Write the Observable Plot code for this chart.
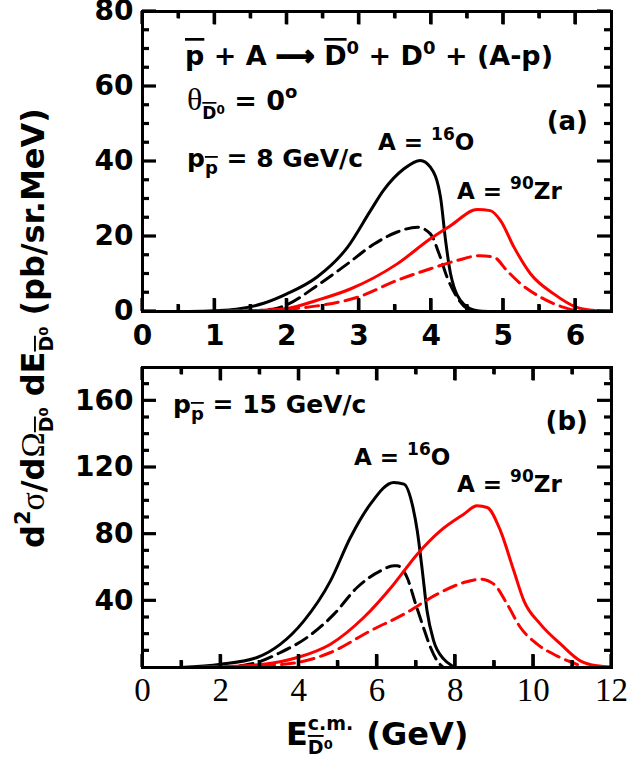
<!DOCTYPE html>
<html>
<head>
<meta charset="utf-8">
<script src="https://cdn.jsdelivr.net/npm/d3@7"></script>
<script src="https://cdn.jsdelivr.net/npm/@observablehq/plot@0.6"></script>
<style>
  html, body { margin: 0; padding: 0; background: #fff; }
  #chart { position: relative; width: 628px; height: 765px; }
  #chart svg { position: absolute; left: 0; }
</style>
</head>
<body>
<div id="chart"></div>
<script>
// ---------- Data ----------
// Panel (a): p̄ momentum 8 GeV/c
const aO16SolidE = [0.65, 1.0, 1.3, 1.68, 2.0, 2.42, 2.84, 3.16, 3.34, 3.62, 3.85, 3.99, 4.13, 4.2, 4.27, 4.45, 4.64, 4.8];
const aO16SolidV = [0, 0.2, 0.6, 2.2, 4.7, 9.2, 17.1, 26.9, 32.3, 38, 40.3, 38.5, 30.5, 19, 10, 2, 0.2, 0];
const aO16DashE = [1.2, 1.8, 2.0, 2.42, 2.84, 3.21, 3.53, 3.81, 3.99, 4.11, 4.22, 4.36, 4.5, 4.6];
const aO16DashV = [0, 0.6, 1.8, 6.9, 12.7, 18, 21.2, 22.5, 20.7, 15.4, 9.2, 3.8, 0.7, 0];
const aZrSolidE = [0.6, 1.2, 1.6, 2.0, 2.42, 2.88, 3.53, 3.99, 4.27, 4.64, 4.82, 4.96, 5.15, 5.38, 5.7, 6.02, 6.3, 6.5];
const aZrSolidV = [0, 0.1, 0.3, 0.8, 3, 6, 12.7, 19.4, 22.9, 27.2, 26.9, 24.3, 17.1, 10, 4.7, 1.1, 0.2, 0];
const aZrDashE = [0.6, 1.6, 2.0, 2.42, 2.98, 3.53, 3.99, 4.36, 4.68, 4.87, 5.05, 5.24, 5.52, 5.84, 6.02, 6.1];
const aZrDashV = [0, 0.2, 0.6, 1.5, 3.8, 8.3, 11.4, 13.6, 14.9, 14.5, 10.9, 7.4, 3.8, 1.1, 0.2, 0];

// Panel (b): p̄ momentum 15 GeV/c
const bO16SolidE = [0.97, 2.0, 2.93, 3.53, 4.13, 4.81, 5.32, 5.83, 6.43, 6.69, 6.9, 7.03, 7.16, 7.28, 7.45, 7.71, 7.92, 8.0];
const bO16SolidV = [0, 2, 6, 14, 28, 52, 78, 98, 111, 110, 98, 82, 58, 34, 16, 5, 1, 0];
const bO16DashE = [2.5, 2.93, 3.53, 4.21, 4.9, 5.49, 6.09, 6.43, 6.52, 6.77, 6.99, 7.16, 7.37, 7.54, 7.7];
const bO16DashV = [1, 3, 9, 18, 32, 48, 58, 61, 61, 54, 38, 26, 12, 4, 0];
const bZrSolidE = [1.0, 2.0, 3.1, 3.96, 4.81, 5.66, 6.43, 7.03, 7.62, 8.22, 8.56, 8.82, 9.16, 9.5, 9.76, 10.18, 10.7, 11.2, 11.63, 12];
const bZrSolidV = [0, 0.5, 2, 6, 14, 30, 50, 68, 82, 92, 97, 96, 82, 58, 40, 26, 14, 4, 1, 0.3];
const bZrDashE = [1.0, 3.0, 3.96, 4.81, 5.83, 6.69, 7.54, 8.22, 8.65, 8.99, 9.33, 9.67, 10.1, 10.6, 11.1, 11.3];
const bZrDashV = [0, 1, 3, 9, 22, 32, 44, 51, 53, 50, 38, 24, 14, 7, 2, 0];

// Tick values / labels
const xTicksA = [0, 1, 2, 3, 4, 5, 6];
const xMinorA = [0.5, 1.5, 2.5, 3.5, 4.5, 5.5];
const yTicksA = [0, 20, 40, 60, 80];
const yMinorA = [5, 10, 15, 25, 30, 35, 45, 50, 55, 65, 70, 75];
const xTicksB = [0, 2, 4, 6, 8, 10, 12];
const xMinorB = [1, 3, 5, 7, 9, 11];
const yTicksB = [40, 80, 120, 160];
const yMinorB = [10, 20, 30, 50, 60, 70, 90, 100, 110, 130, 140, 150, 170];

// ---------- Helpers ----------
const SANS = "DejaVu Sans";
const SERIF = "Liberation Serif";
const tbl = (E, V) => E.map((e, i) => ({E: e, V: V[i]}));

function curveMarks(sets) {
  return sets.map(([E, V, color, dashed]) =>
    Plot.line(tbl(E, V), {
      x: "E", y: "V", stroke: color, strokeWidth: 3,
      strokeDasharray: dashed ? "13,7" : null,
      curve: "monotone-x"
    }));
}

// inward ticks on all four sides, drawn as small filled rects (lengths in px -> data units)
function tickMarks(xDom, yDom, xMaj, xMin, yMaj, yMin, pw, ph) {
  const kx = (xDom[1] - xDom[0]) / pw, ky = (yDom[1] - yDom[0]) / ph;
  const hw = 1.6; // half width of a tick, px
  const rows = [];
  const addX = (vals, len) => vals.forEach(v => {
    rows.push({x1: v - hw * kx, x2: v + hw * kx, y1: yDom[0], y2: yDom[0] + len * ky});
    rows.push({x1: v - hw * kx, x2: v + hw * kx, y1: yDom[1] - len * ky, y2: yDom[1]});
  });
  const addY = (vals, len) => vals.forEach(v => {
    rows.push({x1: xDom[0], x2: xDom[0] + len * kx, y1: v - hw * ky, y2: v + hw * ky});
    rows.push({x1: xDom[1] - len * kx, x2: xDom[1], y1: v - hw * ky, y2: v + hw * ky});
  });
  addX(xMaj, 13); addX(xMin, 7); addY(yMaj, 14); addY(yMin, 7);
  return [
    Plot.rect(rows, {x1: "x1", x2: "x2", y1: "y1", y2: "y2", fill: "black"}),
    Plot.link(rows, {x1: d => (d.x1 + d.x2) / 2, x2: d => (d.x1 + d.x2) / 2,
      y1: "y1", y2: "y2", stroke: "black", strokeWidth: 3, strokeLinecap: "butt",
      filter: d => (d.x2 - d.x1) < (d.y2 - d.y1) * kx / ky})
  ];
}

// rich text: segments with font size, shift (up positive), overline, family, weight
function rich(parent, x, y, segs, base) {
  const t = parent.append("text")
    .attr("x", x).attr("y", y)
    .attr("text-anchor", base.anchor || "start")
    .attr("font-family", base.family || SANS)
    .attr("font-weight", base.weight || "bold")
    .attr("font-size", base.size)
    .attr("fill", "black");
  if (base.transform) t.attr("transform", base.transform);
  let cur = 0;
  for (const s of segs) {
    const ts = t.append("tspan").text(s.t);
    const off = s.shift || 0;
    ts.attr("dy", -(off - cur));
    cur = off;
    if (s.size) ts.attr("font-size", s.size);
    if (s.family) ts.attr("font-family", s.family);
    if (s.weight) ts.attr("font-weight", s.weight);
    if (s.dx) ts.attr("dx", s.dx);
    if (s.over) ts.style("text-decoration", "overline");
    if (s.thick) ts.attr("stroke", "black").attr("stroke-width", s.thick);
  }
  return t;
}

const PW = 628 - 142 - 17, PH = 300;
const chart = document.getElementById("chart");
const fmt = d => String(d);

// ---------- Panel (a) ----------
const domXA = [0, 6.5], domYA = [0, 80];
const plotA = Plot.plot({
  width: 628, height: 340,
  marginLeft: 142, marginRight: 17, marginTop: 11, marginBottom: 29,
  x: {domain: domXA},
  y: {domain: domYA},
  style: {background: "transparent", overflow: "visible", color: "black"},
  marks: [
    ...curveMarks([
      [aO16SolidE, aO16SolidV, "black", false],
      [aO16DashE, aO16DashV, "black", true],
      [aZrSolidE, aZrSolidV, "#ff0000", false],
      [aZrDashE, aZrDashV, "#ff0000", true]
    ]),
    Plot.frame({stroke: "black", strokeWidth: 3}),
    Plot.axisX({ticks: xTicksA, tickFormat: fmt, tickSize: 0, tickPadding: 14, label: null,
      fontSize: 28, fontWeight: "bold", fontFamily: SANS}),
    Plot.axisY({ticks: yTicksA, tickFormat: fmt, tickSize: 0, tickPadding: 9, label: null,
      fontSize: 28, fontWeight: "bold", fontFamily: SANS}),
    ...tickMarks(domXA, domYA, xTicksA, xMinorA, yTicksA, yMinorA, PW, PH)
  ]
});
plotA.style.top = "0px";
chart.appendChild(plotA);

// ---------- Panel (b) ----------
const domXB = [0, 12], domYB = [0, 180];
const plotB = Plot.plot({
  width: 628, height: 425,
  marginLeft: 142, marginRight: 17, marginTop: 27, marginBottom: 98,
  x: {domain: domXB},
  y: {domain: domYB},
  style: {background: "transparent", overflow: "visible", color: "black"},
  marks: [
    ...curveMarks([
      [bO16SolidE, bO16SolidV, "black", false],
      [bO16DashE, bO16DashV, "black", true],
      [bZrSolidE, bZrSolidV, "#ff0000", false],
      [bZrDashE, bZrDashV, "#ff0000", true]
    ]),
    Plot.frame({stroke: "black", strokeWidth: 3}),
    Plot.axisX({ticks: xTicksB, tickFormat: fmt, tickSize: 0, tickPadding: 10, label: null,
      fontSize: 33, fontWeight: "normal", fontFamily: SERIF}),
    Plot.axisY({ticks: yTicksB, tickFormat: fmt, tickSize: 0, tickPadding: 9, label: null,
      fontSize: 28, fontWeight: "bold", fontFamily: SANS}),
    ...tickMarks(domXB, domYB, xTicksB, xMinorB, yTicksB, yMinorB, PW, PH)
  ]
});
plotB.style.top = "340px";
chart.appendChild(plotB);

// ---------- Annotations, panel (a) ----------
const gA = d3.select(plotA).append("g");
rich(gA, 185, 65, [
  {t: "p", over: true}, {t: " + A "}, {t: "⟶", thick: 1.6}, {t: " "},
  {t: "D", over: true}, {t: "0", size: 18, shift: 11},
  {t: " + D"}, {t: "0", size: 18, shift: 11}, {t: " + (A-p)"}
], {size: 27});
rich(gA, 187, 110, [
  {t: "θ", family: SERIF, weight: "normal", size: 32},
  {t: "D", size: 17, shift: -9, over: true}, {t: "0", size: 12, shift: -4},
  {t: " = 0"}, {t: "o", size: 18, shift: 12}
], {size: 27});
rich(gA, 187, 167, [
  {t: "p"}, {t: "p", size: 18, shift: -7, over: true}, {t: " = 8 GeV/c"}
], {size: 25});
rich(gA, 588, 130, [{t: "(a)"}], {size: 26, anchor: "end"});
rich(gA, 378, 150, [{t: "A = "}, {t: "16", size: 17, shift: 10}, {t: "O"}], {size: 23});
rich(gA, 457, 199, [{t: "A = "}, {t: "90", size: 17, shift: 10}, {t: "Zr"}], {size: 23});

// ---------- Annotations, panel (b) ----------
const gB = d3.select(plotB).append("g");
rich(gB, 173, 73, [
  {t: "p"}, {t: "p", size: 18, shift: -7, over: true}, {t: " = 15 GeV/c"}
], {size: 25});
rich(gB, 588, 90, [{t: "(b)"}], {size: 26, anchor: "end"});
rich(gB, 354, 125, [{t: "A = "}, {t: "16", size: 17, shift: 10}, {t: "O"}], {size: 23});
rich(gB, 457, 152, [{t: "A = "}, {t: "90", size: 17, shift: 10}, {t: "Zr"}], {size: 23});
// x-axis title
rich(gB, 286, 405, [
  {t: "E"},
  {t: "D", size: 19, shift: -9, over: true}, {t: "0", size: 13, shift: -4},
  {t: "c.m.", size: 19, shift: 15, dx: -25},
  {t: " (GeV)", shift: 0, dx: 2}
], {size: 32});

// ---------- y-axis title (drawn into panel (a), overflowing downward) ----------
rich(gA, 0, 0, [
  {t: "d"}, {t: "2", size: 21, shift: 14},
  {t: "σ", family: SERIF, weight: "normal", size: 34, shift: 0},
  {t: "/d"},
  {t: "Ω", family: SERIF, weight: "normal", size: 34},
  {t: "D", size: 19, shift: -9, over: true}, {t: "0", size: 13, shift: -4},
  {t: " dE", shift: 0},
  {t: "D", size: 19, shift: -9, over: true}, {t: "0", size: 13, shift: -4},
  {t: " (pb/sr.MeV)", shift: 0}
], {size: 32, transform: "translate(44,548) rotate(-90)"});
</script>
</body>
</html>
